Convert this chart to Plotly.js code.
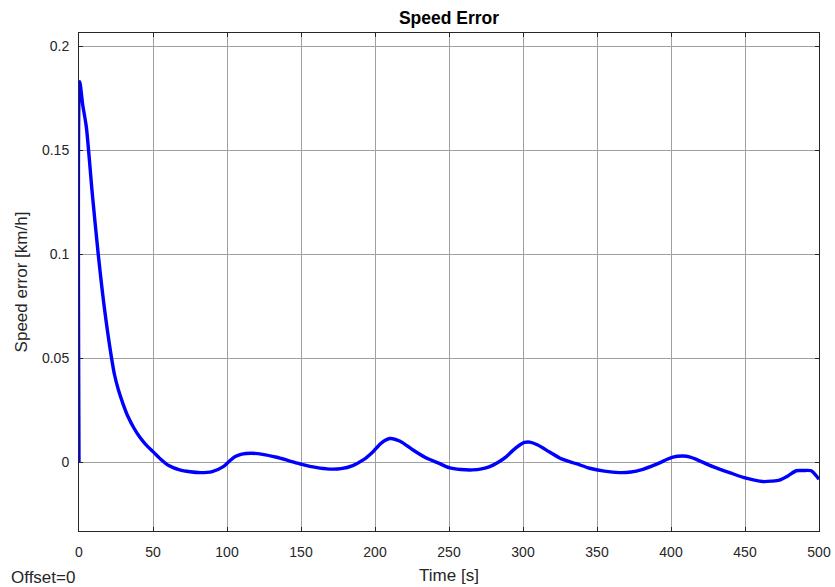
<!DOCTYPE html>
<html>
<head>
<meta charset="utf-8">
<script src="https://cdn.plot.ly/plotly-3.0.1.min.js"></script>
<style>html,body{margin:0;padding:0;background:#fff;}#chart{width:835px;height:587px;}</style>
</head>
<body>
<div id="chart"></div>
<script>
// Time [s]
const timeS = [0, 0.5, 2.5, 5, 9, 13, 17, 22, 24, 26.5, 29.5, 33, 37, 41, 45, 50, 55, 61, 68, 75, 82, 90, 97.5, 101, 105, 110, 116.5, 124, 133.5, 142, 150.5, 160, 169.5, 177, 185, 192, 198.7, 204, 210, 217, 225.7, 234, 242.6, 250, 258, 266, 272, 277.5, 283, 288.8, 293, 297.8, 301, 304.5, 310, 318, 326, 336, 345, 355, 365, 373, 381, 387, 392.3, 397, 401.3, 408, 413, 417, 428.3, 440, 450.8, 462, 468, 473.3, 479, 484.6, 489, 494.7, 500];
// Speed error [km/h]
const speedErr = [0, 0.183, 0.172, 0.161, 0.129, 0.1, 0.075, 0.05, 0.042, 0.035, 0.0285, 0.022, 0.0165, 0.012, 0.0085, 0.005, 0.0015, -0.0018, -0.0038, -0.0047, -0.0051, -0.0046, -0.0022, 0.0000, 0.0024, 0.0038, 0.0042, 0.0037, 0.0023, 0.0006, -0.0011, -0.0026, -0.0034, -0.0032, -0.0017, 0.0010, 0.0050, 0.0090, 0.0113, 0.0100, 0.0058, 0.0022, -0.0004, -0.0027, -0.0036, -0.0038, -0.0033, -0.0022, -0.0002, 0.0026, 0.0055, 0.0082, 0.0094, 0.0096, 0.0082, 0.0048, 0.0015, -0.0008, -0.0030, -0.0044, -0.0051, -0.0048, -0.0035, -0.0020, -0.0004, 0.0012, 0.0024, 0.0029, 0.0024, 0.0013, -0.0022, -0.0052, -0.0078, -0.0094, -0.0092, -0.0087, -0.0067, -0.0042, -0.0041, -0.0042, -0.0083];
const xTicks = [0, 50, 100, 150, 200, 250, 300, 350, 400, 450, 500];
const yTicks = [0, 0.05, 0.1, 0.15, 0.2];
const yTickText = ['0', '0.05', '0.1', '0.15', '0.2'];

const font = 'Liberation Sans, Arial, Helvetica, sans-serif';
const trace = {
  x: timeS, y: speedErr, type: 'scatter', mode: 'lines',
  line: {color: '#0000ff', width: 3.4, shape: 'spline', smoothing: 0.7}, hoverinfo: 'skip', showlegend: false
};
const axisCommon = {
  showline: true, linecolor: '#262626', linewidth: 1, mirror: 'ticks',
  ticks: 'inside', ticklen: 4, tickcolor: '#262626', tickwidth: 1,
  showgrid: true, gridcolor: '#a0a0a0', gridwidth: 1, zeroline: false,
  tickfont: {family: font, size: 14, color: '#262626'}, automargin: false,
  layer: 'below traces'
};
const layout = {
  width: 835, height: 587,
  paper_bgcolor: '#ffffff', plot_bgcolor: '#ffffff',
  margin: {l: 79, r: 15.5, t: 32.5, b: 56},
  title: {text: '<b>Speed Error</b>', font: {family: font, size: 17.5, color: '#000'}, x: 0.5, xref: 'paper', xanchor: 'center', y: 0.969, yanchor: 'middle', yref: 'container'},
  xaxis: Object.assign({}, axisCommon, {
    range: [0, 500], tickvals: xTicks, ticktext: xTicks.map(String), ticklabelstandoff: 8,
    title: {text: 'Time [s]', font: {family: font, size: 17, color: '#262626'}, standoff: 10}
  }),
  yaxis: Object.assign({}, axisCommon, {
    range: [-0.0332, 0.2065], tickvals: yTicks, ticktext: yTickText, ticklabelstandoff: 6,
    title: {text: 'Speed error [km/h]', font: {family: font, size: 17, color: '#262626'}, standoff: 10}
  }),
  annotations: [{
    text: 'Offset=0', xref: 'paper', yref: 'paper', x: -0.0945, y: -0.094,
    xanchor: 'left', yanchor: 'middle', showarrow: false,
    font: {family: font, size: 17, color: '#262626'}
  }]
};
Plotly.newPlot('chart', [trace], layout, {displayModeBar: false, staticPlot: true});
</script>
</body>
</html>
